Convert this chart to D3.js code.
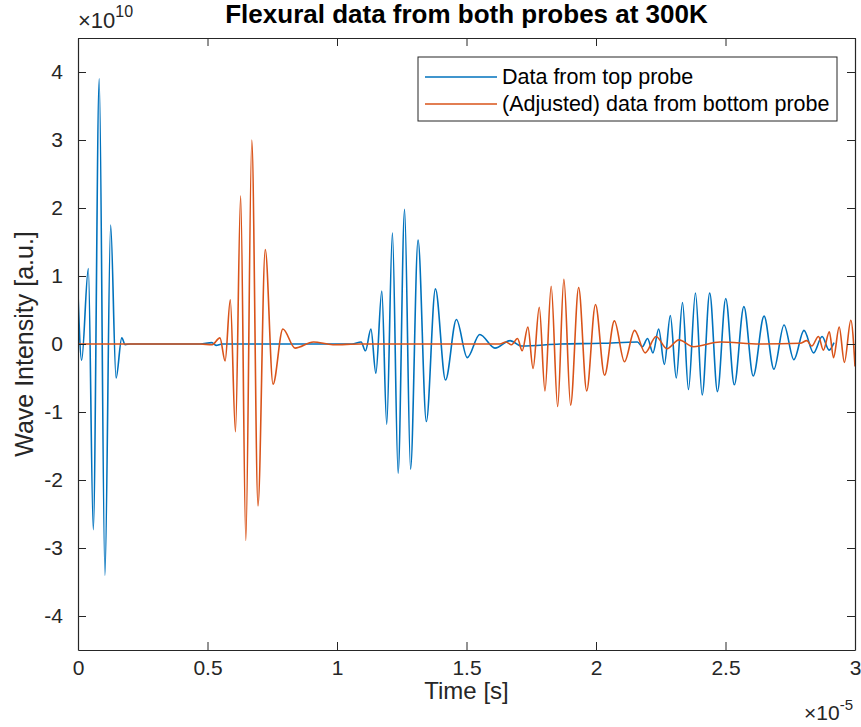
<!DOCTYPE html>
<html>
<head>
<meta charset="utf-8">
<script src="https://cdn.jsdelivr.net/npm/d3@7"></script>
<style>
  body { margin: 0; background: #fff; }
  svg { display: block; font-family: "Liberation Sans", Arial, sans-serif; }
  .tick-lbl { font-size: 21px; fill: #262626; }
</style>
</head>
<body>
<div id="chart"></div>
<script>
// time in units of 1e-5 s, intensity in units of 1e10 (mostly peaks / troughs)
const topTime = [0, 0.014, 0.040, 0.059, 0.082, 0.104, 0.126, 0.147, 0.169, 0.182, 0.201,
  0.471, 0.517, 0.533, 0.556, 0.838, 1.058, 1.093, 1.110, 1.131, 1.150, 1.173, 1.192, 1.214,
  1.236, 1.261, 1.284, 1.313, 1.345, 1.380, 1.419, 1.461, 1.503, 1.551, 1.610, 1.668, 1.713,
  1.861, 2.021, 2.160, 2.179, 2.199, 2.220, 2.242, 2.264, 2.287, 2.310, 2.334, 2.357, 2.384,
  2.410, 2.439, 2.469, 2.501, 2.534, 2.571, 2.607, 2.649, 2.687, 2.726, 2.764, 2.803, 2.840,
  2.873, 2.900, 2.919];
const topValue = [0.75, -0.24, 1.11, -2.73, 3.90, -3.40, 1.75, -0.50, 0.09, -0.01, 0,
  0, 0.02, -0.02, 0, 0, 0, 0.03, -0.10, 0.22, -0.43, 0.78, -1.18, 1.63,
  -1.90, 1.98, -1.84, 1.53, -1.14, 0.81, -0.53, 0.36, -0.20, 0.14, -0.06, 0.05, -0.03,
  0, 0.01, 0.03, -0.04, 0.08, -0.13, 0.22, -0.30, 0.42, -0.50, 0.61, -0.67, 0.75,
  -0.75, 0.75, -0.70, 0.67, -0.60, 0.55, -0.47, 0.41, -0.37, 0.28, -0.23, 0.20, -0.13,
  0.11, -0.09, 0.02];

const bottomTime = [0, 0.471, 0.518, 0.548, 0.568, 0.588, 0.608, 0.628, 0.648, 0.671, 0.695,
  0.723, 0.753, 0.791, 0.838, 0.909, 0.984, 1.090, 1.320, 1.629, 1.652, 1.674, 1.697, 1.715,
  1.737, 1.757, 1.781, 1.803, 1.827, 1.852, 1.876, 1.902, 1.933, 1.964, 1.998, 2.033, 2.071,
  2.110, 2.149, 2.190, 2.232, 2.274, 2.320, 2.377, 2.479, 2.633, 2.788, 2.814, 2.833, 2.859,
  2.878, 2.901, 2.917, 2.939, 2.959, 2.984, 3.0];
const bottomValue = [0, 0, -0.01, 0.09, -0.25, 0.65, -1.29, 2.18, -2.89, 3.00, -2.38,
  1.39, -0.59, 0.22, -0.06, 0.03, -0.01, 0, 0, 0, 0.03, -0.01, 0.08, -0.10,
  0.25, -0.36, 0.54, -0.69, 0.85, -0.92, 0.95, -0.90, 0.83, -0.69, 0.58, -0.46, 0.34,
  -0.26, 0.20, -0.13, 0.11, -0.07, 0.06, -0.04, 0.03, 0, 0.01, 0.05, -0.03, 0.11,
  -0.09, 0.18, -0.20, 0.25, -0.27, 0.35, -0.33];

const xTicks = [0, 0.5, 1, 1.5, 2, 2.5, 3];
const yTicks = [-4, -3, -2, -1, 0, 1, 2, 3, 4];
const seriesNames = ["Data from top probe", "(Adjusted) data from bottom probe"];
const seriesColors = ["#0072BD", "#D95319"];

const W = 861, H = 727;
const mLeft = 78, mRight = 855, mTop = 38, mBottom = 650;
const axisColor = "#262626";

const svg = d3.select("#chart").append("svg")
  .attr("width", W)
  .attr("height", H);

const x = d3.scaleLinear().domain([0, 3]).range([mLeft, mRight]);
const y = d3.scaleLinear().domain([-4.5, 4.5]).range([mBottom, mTop]);

svg.append("clipPath").attr("id", "plotClip")
  .append("rect")
  .attr("x", mLeft).attr("y", mTop)
  .attr("width", mRight - mLeft).attr("height", mBottom - mTop);

// the two traces, orange drawn on top
const line = d3.line()
  .x(d => x(d[0]))
  .y(d => y(d[1]))
  .curve(d3.curveMonotoneX);

const series = [
  d3.zip(topTime, topValue),
  d3.zip(bottomTime, bottomValue)
];

svg.append("g").attr("clip-path", "url(#plotClip)")
  .selectAll("path")
  .data(series)
  .enter()
  .append("path")
  .attr("d", line)
  .attr("fill", "none")
  .attr("stroke", (d, i) => seriesColors[i])
  .attr("stroke-width", 1.6)
  .attr("stroke-linejoin", "round");

// axes: box with inward ticks on all four sides
function styleAxis(g) {
  g.select(".domain").attr("stroke", axisColor).attr("stroke-width", 1.2);
  g.selectAll(".tick line").attr("stroke", axisColor);
  g.selectAll(".tick text").attr("class", "tick-lbl").attr("font-family", null).attr("font-size", null);
}

svg.append("g")
  .attr("transform", `translate(0,${mBottom})`)
  .call(d3.axisBottom(x).tickValues(xTicks).tickSizeInner(-8).tickSizeOuter(0).tickPadding(10).tickFormat(d3.format("")))
  .call(styleAxis);

svg.append("g")
  .attr("transform", `translate(0,${mTop})`)
  .call(d3.axisTop(x).tickValues(xTicks).tickSizeInner(-8).tickSizeOuter(0).tickFormat(""))
  .call(styleAxis);

svg.append("g")
  .attr("transform", `translate(${mLeft},0)`)
  .call(d3.axisLeft(y).tickValues(yTicks).tickSizeInner(-8).tickSizeOuter(0).tickPadding(15).tickFormat(d3.format("")))
  .call(styleAxis);

svg.append("g")
  .attr("transform", `translate(${mRight},0)`)
  .call(d3.axisRight(y).tickValues(yTicks).tickSizeInner(-8).tickSizeOuter(0).tickFormat(""))
  .call(styleAxis);

// minus signs like MATLAB: plain hyphen
svg.selectAll(".tick text").text(function () { return this.textContent.replace("\u2212", "-"); });

// exponent labels
const expTop = svg.append("text")
  .attr("x", mLeft).attr("y", 28)
  .attr("fill", axisColor).attr("font-size", 22);
expTop.append("tspan").text("\u00d710");
expTop.append("tspan").attr("dy", -11).attr("font-size", 16).text("10");

const expBottom = svg.append("text")
  .attr("x", mRight - 2).attr("y", 720)
  .attr("text-anchor", "end")
  .attr("fill", axisColor).attr("font-size", 21);
expBottom.append("tspan").text("\u00d710");
expBottom.append("tspan").attr("dy", -10).attr("font-size", 15).text("-5");

// title and labels
svg.append("text")
  .attr("x", (mLeft + mRight) / 2).attr("y", 23)
  .attr("text-anchor", "middle")
  .attr("font-weight", "bold")
  .attr("font-size", 26)
  .attr("fill", "#000")
  .text("Flexural data from both probes at 300K");

svg.append("text")
  .attr("x", (mLeft + mRight) / 2).attr("y", 699)
  .attr("text-anchor", "middle")
  .attr("font-size", 24)
  .attr("fill", axisColor)
  .text("Time [s]");

svg.append("text")
  .attr("transform", `translate(33,${(mTop + mBottom) / 2}) rotate(-90)`)
  .attr("text-anchor", "middle")
  .attr("font-size", 25)
  .attr("fill", axisColor)
  .text("Wave Intensity [a.u.]");

// legend
const legend = svg.append("g");
legend.append("rect")
  .attr("x", 418).attr("y", 57)
  .attr("width", 419).attr("height", 64)
  .attr("fill", "#fff")
  .attr("stroke", axisColor)
  .attr("stroke-width", 1);

seriesNames.forEach(function (name, i) {
  const ly = 77 + i * 27;
  legend.append("line")
    .attr("x1", 425).attr("x2", 497)
    .attr("y1", ly).attr("y2", ly)
    .attr("stroke", seriesColors[i])
    .attr("stroke-width", 1.6);
  legend.append("text")
    .attr("x", 502).attr("y", ly + 7)
    .attr("font-size", 21.5)
    .attr("fill", "#000")
    .text(name);
});
</script>
</body>
</html>
